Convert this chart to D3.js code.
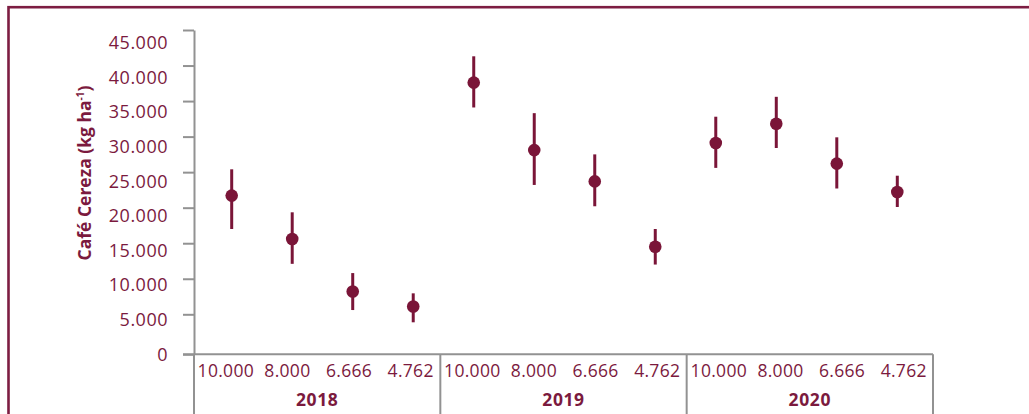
<!DOCTYPE html>
<html>
<head>
<meta charset="utf-8">
<script src="https://cdn.jsdelivr.net/npm/d3@7"></script>
<style>
  html, body { margin: 0; padding: 0; background: #ffffff; }
  svg { display: block; }
</style>
</head>
<body>
<div id="chart"></div>
<script>
// Cherry coffee yield (kg/ha) by planting density and harvest year
const years = ["2018", "2019", "2020"];
const densities = ["10.000", "8.000", "6.666", "4.762"];

// mean, lower and upper limits of each error bar, per year (same order as densities)
const mean2018  = [21700, 15600, 8200, 6100];
const lower2018 = [17000, 12100, 5600, 4000];
const upper2018 = [25400, 19350, 10800, 7950];

const mean2019  = [37600, 28100, 23700, 14500];
const lower2019 = [34100, 23200, 20200, 12000];
const upper2019 = [41300, 33300, 27500, 17000];

const mean2020  = [29100, 31800, 26200, 22200];
const lower2020 = [25600, 28400, 22700, 20100];
const upper2020 = [32800, 35600, 29900, 24500];

const yTicks = [0, 5000, 10000, 15000, 20000, 25000, 30000, 35000, 40000, 45000];
const yTickLabels = ["0", "5.000", "10.000", "15.000", "20.000", "25.000", "30.000", "35.000", "40.000", "45.000"];
const yTitle = "Café Cereza (kg ha";
const yTitleSup = "-1";

const means = [mean2018, mean2019, mean2020];
const lowers = [lower2018, lower2019, lower2020];
const uppers = [upper2018, upper2019, upper2020];

const rows = [];
years.forEach((yr, gi) => {
  densities.forEach((d, i) => {
    rows.push({ year: yr, density: d, key: yr + "|" + d,
                mean: means[gi][i], lo: lowers[gi][i], hi: uppers[gi][i] });
  });
});

const W = 1029, H = 414;
const maroon = "#7a1538";
const textColor = "#7b1a3e";
const axisGray = "#929292";
const font = "'Open Sans', 'Noto Sans', sans-serif";

const svg = d3.select("#chart").append("svg")
  .attr("width", W).attr("height", H)
  .style("background", "#fff");

// outer frame (runs off the right and bottom edges)
svg.append("rect")
  .attr("x", 8.5).attr("y", 7.2)
  .attr("width", W + 40).attr("height", H + 40)
  .attr("fill", "none")
  .attr("stroke", "#7d1d42")
  .attr("stroke-width", 2.6);

const plotLeft = 194, plotRight = 933, plotTop = 30, baseY = 354.3;

// value scale: the zero line sits a little below the regular tick step
const y = d3.scaleLinear()
  .domain([0, 5000, 45000])
  .range([baseY, 314.3, plotTop]);

// tick labels are spaced slightly tighter than the tick marks
const yLabel = d3.scaleLinear()
  .domain([0, 45000])
  .range([354.3, 43]);

// one slot per year/density combination
const x = d3.scalePoint()
  .domain(rows.map(r => r.key))
  .range([231.7, 897.3]);

// density labels run on a slightly wider spread than the marks
const xLabel = d3.scalePoint()
  .domain(rows.map(r => r.key))
  .range([225.8, 903.7]);

// year groups for the category table under the plot
const xGroup = d3.scaleBand()
  .domain(years)
  .range([plotLeft, plotRight]);

// tick marks
const tickAxis = d3.axisLeft(y)
  .tickValues(yTicks)
  .tickSize(11)
  .tickSizeOuter(0)
  .tickFormat("");
const gTicks = svg.append("g")
  .attr("transform", `translate(${plotLeft},0)`)
  .call(tickAxis);
gTicks.select(".domain").attr("stroke", axisGray).attr("stroke-width", 2);
gTicks.selectAll(".tick line").attr("stroke", axisGray).attr("stroke-width", 2);

// tick labels
const labelAxis = d3.axisLeft(yLabel)
  .tickValues(yTicks)
  .tickSize(0)
  .tickPadding(26)
  .tickFormat((d, i) => yTickLabels[i]);
const gLabels = svg.append("g")
  .attr("transform", `translate(${plotLeft},0)`)
  .call(labelAxis);
gLabels.select(".domain").remove();
gLabels.selectAll(".tick text")
  .attr("fill", textColor)
  .style("font-family", font)
  .style("font-size", "18px")
  .style("letter-spacing", "0.5px");

// baseline of the plot / top of the category table
svg.append("line")
  .attr("x1", plotLeft - 11).attr("x2", plotRight)
  .attr("y1", y(0)).attr("y2", y(0))
  .attr("stroke", axisGray).attr("stroke-width", 2);

// group separators in the category table
const seps = years.map(yr => xGroup(yr)).concat([xGroup(years[years.length - 1]) + xGroup.bandwidth()]);
svg.append("g").selectAll("line")
  .data(seps)
  .join("line")
  .attr("x1", d => d).attr("x2", d => d)
  .attr("y1", y(0)).attr("y2", H)
  .attr("stroke", axisGray).attr("stroke-width", 2);

// density labels
svg.append("g").selectAll("text")
  .data(rows)
  .join("text")
  .attr("x", d => xLabel(d.key))
  .attr("y", 376.7)
  .attr("text-anchor", "middle")
  .attr("fill", textColor)
  .style("font-family", font)
  .style("font-size", "17.5px")
  .style("letter-spacing", "0.3px")
  .text(d => d.density);

// year labels
svg.append("g").selectAll("text")
  .data(years)
  .join("text")
  .attr("x", d => xGroup(d) + xGroup.bandwidth() / 2)
  .attr("y", 405.7)
  .attr("text-anchor", "middle")
  .attr("fill", textColor)
  .style("font-family", font)
  .style("font-size", "17.5px")
  .style("font-weight", "700")
  .style("letter-spacing", "0.6px")
  .text(d => d);

// y axis title
const title = svg.append("text")
  .attr("transform", "translate(91,173) rotate(-90)")
  .attr("text-anchor", "middle")
  .attr("fill", textColor)
  .style("font-family", font)
  .style("font-size", "17.5px")
  .style("font-weight", "700");
title.append("tspan").text(yTitle);
title.append("tspan").attr("dy", -7).style("font-size", "10px").text(yTitleSup);
title.append("tspan").attr("dy", 7).text(")");

// error bars
svg.append("g").selectAll("line")
  .data(rows)
  .join("line")
  .attr("x1", d => x(d.key)).attr("x2", d => x(d.key))
  .attr("y1", d => y(d.hi)).attr("y2", d => y(d.lo))
  .attr("stroke", maroon)
  .attr("stroke-width", 3);

// means
svg.append("g").selectAll("circle")
  .data(rows)
  .join("circle")
  .attr("cx", d => x(d.key))
  .attr("cy", d => y(d.mean))
  .attr("r", 6.3)
  .attr("fill", maroon);
</script>
</body>
</html>
